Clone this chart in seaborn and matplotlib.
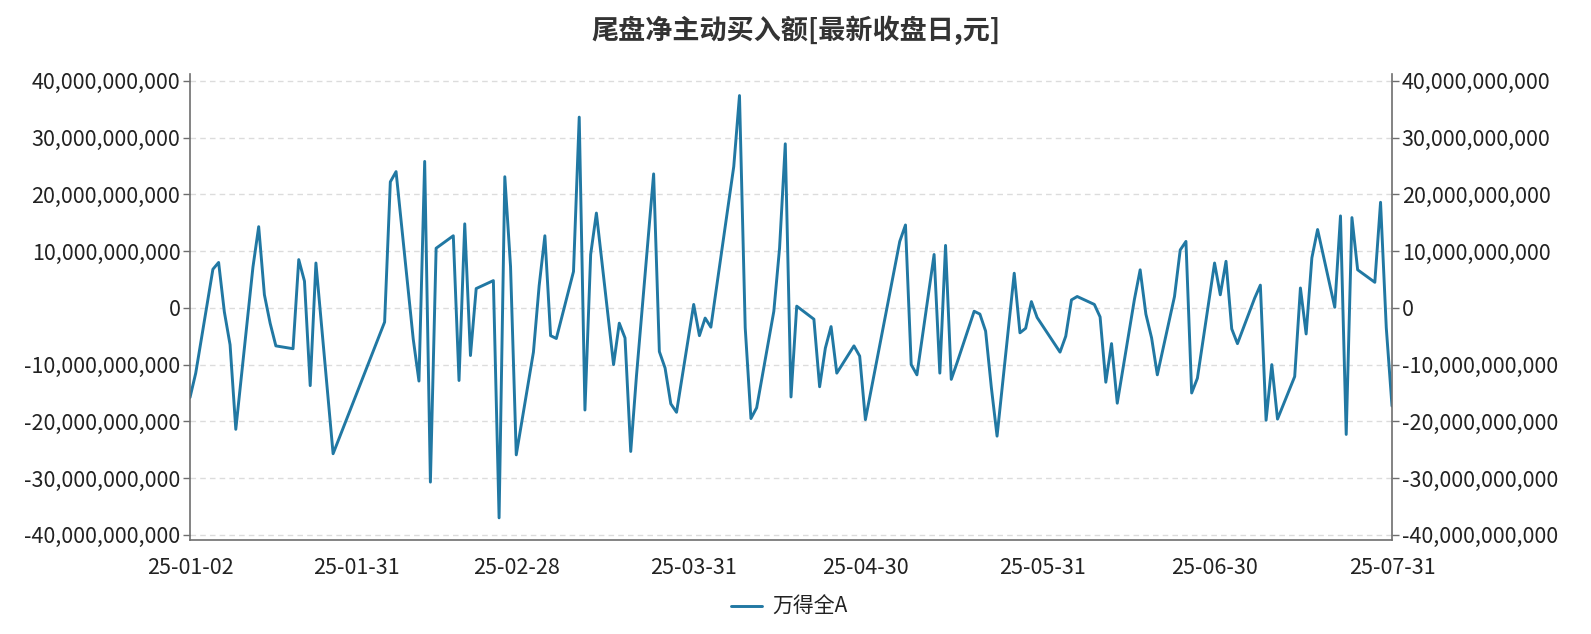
import pandas as pd
import seaborn as sns
import matplotlib.pyplot as plt
import matplotlib.dates as mdates
from matplotlib.ticker import FuncFormatter

# trading days (MM-DD, 2025) and end-of-day net active buy amount, 10^9 yuan
trade_days = [
    "01-02", "01-03", "01-06", "01-07", "01-08", "01-09", "01-10", "01-13", "01-14", "01-15",
    "01-16", "01-17", "01-20", "01-21", "01-22", "01-23", "01-24", "01-27",
    "02-05", "02-06", "02-07", "02-10", "02-11", "02-12", "02-13", "02-14", "02-17", "02-18",
    "02-19", "02-20", "02-21", "02-24", "02-25", "02-26", "02-27", "02-28",
    "03-03", "03-04", "03-05", "03-06", "03-07", "03-10", "03-11", "03-12", "03-13", "03-14",
    "03-17", "03-18", "03-19", "03-20", "03-21", "03-24", "03-25", "03-26", "03-27", "03-28", "03-31",
    "04-01", "04-02", "04-03", "04-07", "04-08", "04-09", "04-10", "04-11", "04-14", "04-15",
    "04-16", "04-17", "04-18", "04-21", "04-22", "04-23", "04-24", "04-25", "04-28", "04-29", "04-30",
    "05-06", "05-07", "05-08", "05-09", "05-12", "05-13", "05-14", "05-15", "05-16", "05-19",
    "05-20", "05-21", "05-22", "05-23", "05-26", "05-27", "05-28", "05-29", "05-30",
    "06-03", "06-04", "06-05", "06-06", "06-09", "06-10", "06-11", "06-12", "06-13", "06-16",
    "06-17", "06-18", "06-19", "06-20", "06-23", "06-24", "06-25", "06-26", "06-27", "06-30",
    "07-01", "07-02", "07-03", "07-04", "07-07", "07-08", "07-09", "07-10", "07-11", "07-14",
    "07-15", "07-16", "07-17", "07-18", "07-21", "07-22", "07-23", "07-24", "07-25", "07-28",
    "07-29", "07-30", "07-31",
]
net_buy_bn = [
    -15.8, -11.5, 6.8, 8.0, -0.7, -6.5, -21.4, 7.2, 14.3, 2.3,
    -2.7, -6.7, -7.2, 8.5, 4.7, -13.7, 7.9, -25.7,
    -2.5, 22.2, 24.0, -5.5, -12.9, 25.8, -30.7, 10.5, 12.7, -12.8,
    14.8, -8.4, 3.4, 4.8, -37.0, 23.1, 7.3, -25.9,
    -7.8, 3.9, 12.7, -4.9, -5.4, 6.4, 33.6, -18.0, 9.4, 16.7,
    -10.0, -2.7, -5.3, -25.3, -12.0, 23.6, -7.7, -10.6, -16.9, -18.4, 0.6,
    -4.9, -1.8, -3.4, 24.9, 37.4, -3.5, -19.5, -17.6, -0.6, 10.5,
    28.9, -15.7, 0.3, -2.0, -13.9, -7.1, -3.3, -11.5, -6.7, -8.5, -19.7,
    11.7, 14.6, -10.0, -11.8, 9.4, -11.5, 11.0, -12.6, -9.7, -0.6,
    -1.1, -4.1, -14.0, -22.6, 6.1, -4.4, -3.6, 1.1, -1.7,
    -7.8, -5.0, 1.4, 2.0, 0.6, -1.6, -13.1, -6.3, -16.8, 1.5,
    6.7, -1.1, -5.3, -11.8, 2.0, 10.2, 11.7, -15.0, -12.4, 7.9,
    2.3, 8.2, -3.7, -6.3, 1.7, 4.0, -19.8, -10.0, -19.6, -12.1,
    3.5, -4.6, 8.8, 13.8, 0.1, 16.2, -22.3, 15.9, 6.7, 4.5,
    18.6, -3.5, -17.3,
]
tick_dates = ["2025-01-02", "2025-01-31", "2025-02-28", "2025-03-31",
              "2025-04-30", "2025-05-31", "2025-06-30", "2025-07-31"]
y_ticks = [-40e9, -30e9, -20e9, -10e9, 0, 10e9, 20e9, 30e9, 40e9]
series_name = "万得全A"
title = "尾盘净主动买入额[最新收盘日,元]"

df = pd.DataFrame({
    "date": pd.to_datetime(["2025-" + d for d in trade_days]),
    "value": [v * 1e9 for v in net_buy_bn],
})

sns.set_style("white")
plt.rcParams["font.family"] = ["Noto Sans CJK SC", "DejaVu Sans"]

line_color = "#2178a3"
axis_color = "#6e6e6e"
text_color = "#222222"

fig = plt.figure(figsize=(15.91, 6.34), dpi=100)
ax = fig.add_axes([190 / 1591, 94 / 634, 1202 / 1591, 466 / 634])

sns.lineplot(data=df, x="date", y="value", ax=ax, color=line_color,
             linewidth=2.1, label=series_name, legend=False)

ax.set_xlim(pd.Timestamp("2025-01-02"), pd.Timestamp("2025-07-31"))
ax.set_ylim(-40.9e9, 41.2e9)
ax.set_yticks(y_ticks)
ax.set_xticks(pd.to_datetime(tick_dates))
ax.xaxis.set_major_formatter(mdates.DateFormatter("%y-%m-%d"))
fmt = FuncFormatter(lambda v, p: f"{v:,.0f}")
ax.yaxis.set_major_formatter(fmt)
ax.set_xlabel("")
ax.set_ylabel("")

ax.grid(axis="y", linestyle=(0, (4, 3)), color="#dcdcdc", linewidth=1)
ax.grid(axis="x", visible=False)
ax.set_axisbelow(True)

ax2 = ax.twinx()
ax2.set_ylim(ax.get_ylim())
ax2.set_yticks(y_ticks)
ax2.yaxis.set_major_formatter(fmt)

for a in (ax, ax2):
    a.spines["top"].set_visible(False)
    for s in ("left", "right", "bottom"):
        a.spines[s].set_color(axis_color)
        a.spines[s].set_linewidth(1.2)
ax.spines["right"].set_visible(False)
ax2.spines["left"].set_visible(False)
ax2.spines["bottom"].set_visible(False)

tick_size = 15.5
ax.tick_params(axis="y", length=5, width=1, color=axis_color, labelsize=tick_size,
               labelcolor=text_color, pad=2)
ax2.tick_params(axis="y", length=5, width=1, color=axis_color, labelsize=tick_size,
                labelcolor=text_color, pad=2)
ax.tick_params(axis="x", length=7, width=1, color=axis_color, labelsize=tick_size,
               labelcolor=text_color, pad=5)

fig.suptitle(title, x=0.5, y=1 - 30 / 634, va="center", fontsize=19.5,
             fontweight="bold", color="#333333")

handles, labels = ax.get_legend_handles_labels()
fig.legend(handles, labels, loc="center", bbox_to_anchor=(0.496, 1 - 607 / 634),
           frameon=False, fontsize=15, handlelength=1.5, handletextpad=0.5,
           labelcolor=text_color)

fig.savefig("out.png", dpi=100)
